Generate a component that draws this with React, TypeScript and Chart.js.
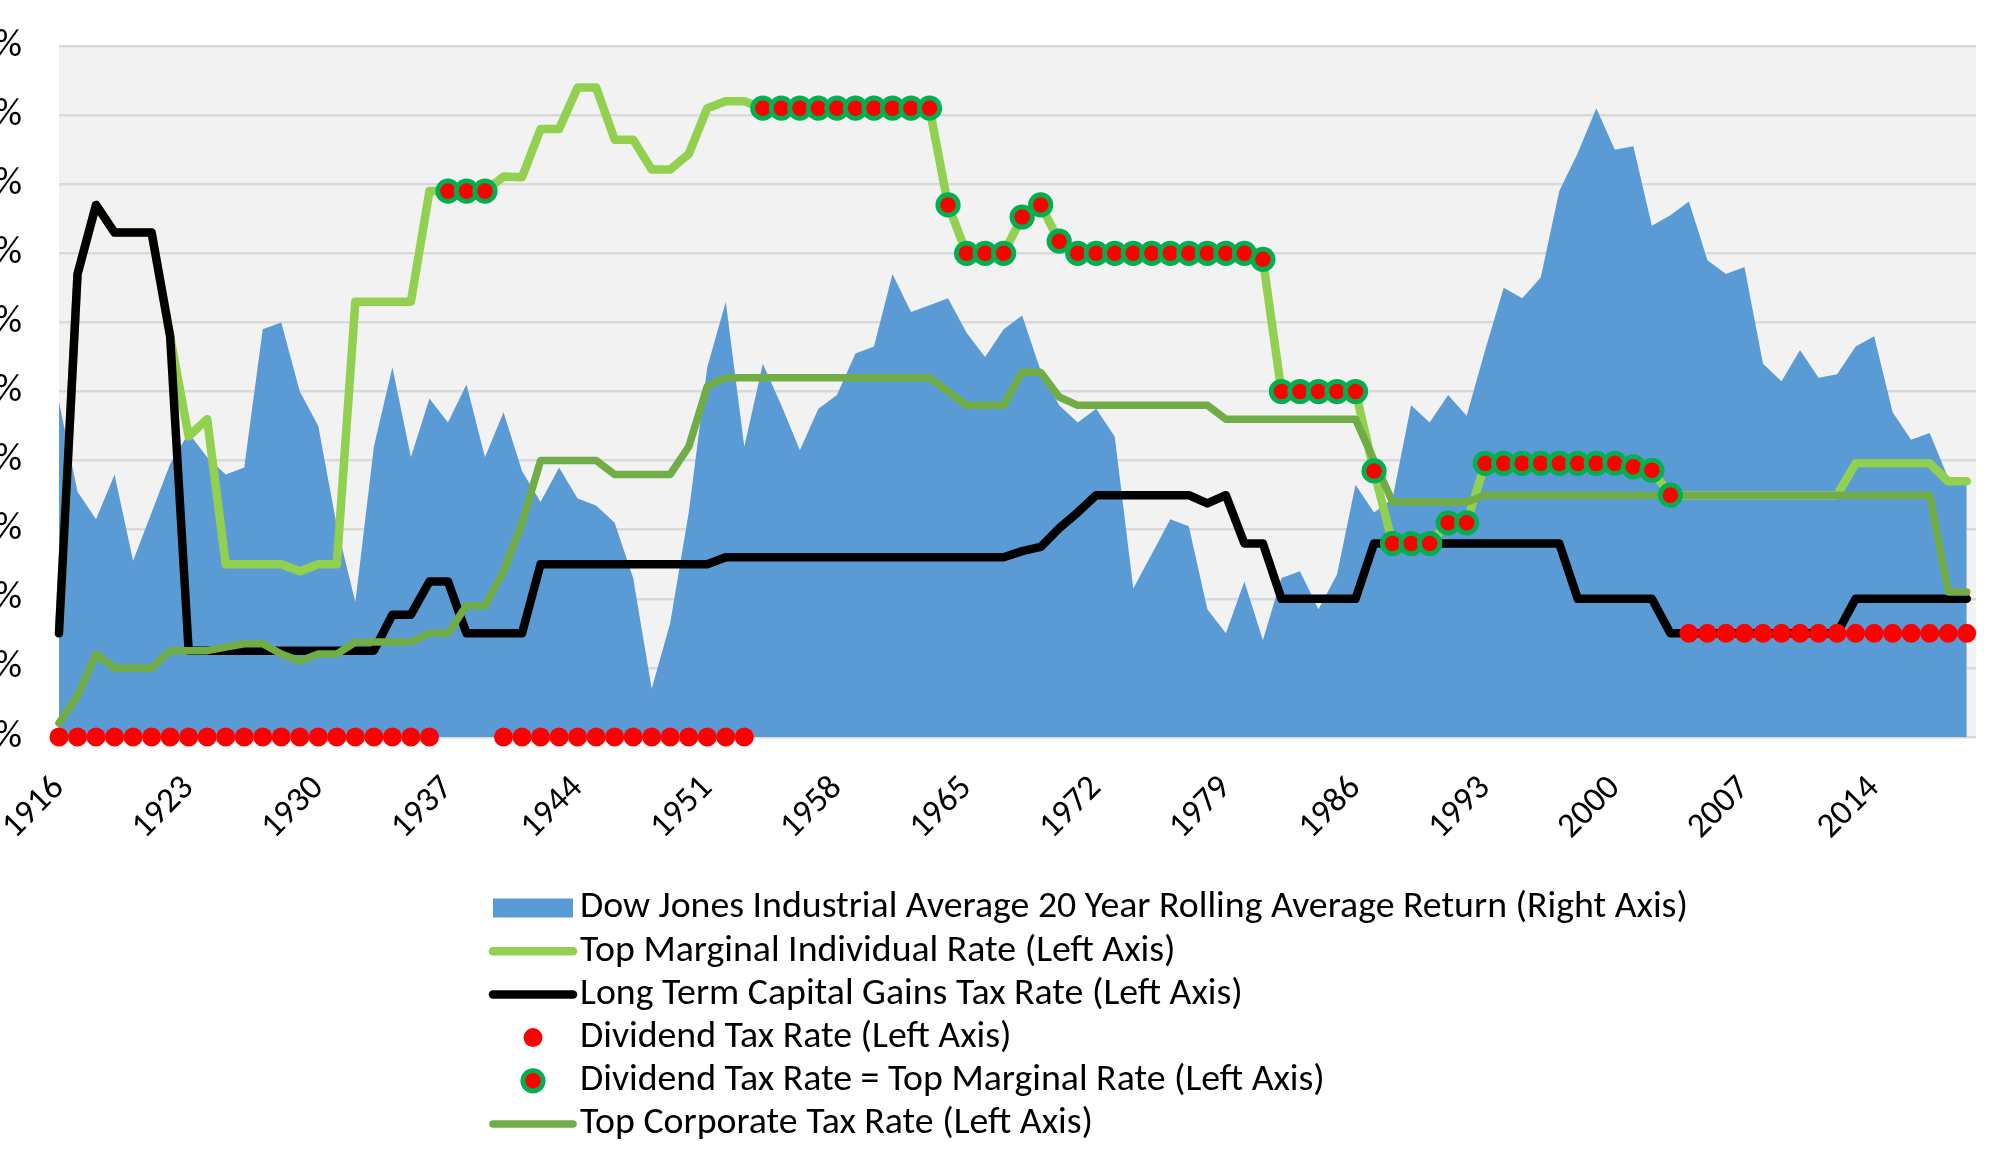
import { useEffect, useRef } from "react";
import { Chart, registerables, type Plugin } from "chart.js";

Chart.register(...registerables);

// one entry per year, 1916 .. 2019
const years = [
  1916, 1917, 1918, 1919, 1920, 1921, 1922, 1923, 1924, 1925,
  1926, 1927, 1928, 1929, 1930, 1931, 1932, 1933, 1934, 1935,
  1936, 1937, 1938, 1939, 1940, 1941, 1942, 1943, 1944, 1945,
  1946, 1947, 1948, 1949, 1950, 1951, 1952, 1953, 1954, 1955,
  1956, 1957, 1958, 1959, 1960, 1961, 1962, 1963, 1964, 1965,
  1966, 1967, 1968, 1969, 1970, 1971, 1972, 1973, 1974, 1975,
  1976, 1977, 1978, 1979, 1980, 1981, 1982, 1983, 1984, 1985,
  1986, 1987, 1988, 1989, 1990, 1991, 1992, 1993, 1994, 1995,
  1996, 1997, 1998, 1999, 2000, 2001, 2002, 2003, 2004, 2005,
  2006, 2007, 2008, 2009, 2010, 2011, 2012, 2013, 2014, 2015,
  2016, 2017, 2018, 2019,
];

const tickYears = [1916, 1923, 1930, 1937, 1944, 1951, 1958, 1965, 1972, 1979, 1986, 1993, 2000, 2007, 2014];

// right axis, % per year
const djiaReturn = [
  5.7, 3.1, 2.3, 3.6, 1.1, 2.5, 3.9, 4.8, 4.1, 3.6,
  3.8, 7.8, 8.0, 6.0, 5.0, 2.1, -0.1, 4.4, 6.7, 4.1,
  5.8, 5.1, 6.2, 4.1, 5.4, 3.7, 2.8, 3.8, 2.9, 2.7,
  2.2, 0.6, -2.6, -0.7, 2.5, 6.7, 8.6, 4.4, 6.8, 5.6,
  4.3, 5.5, 5.9, 7.1, 7.3, 9.4, 8.3, 8.5, 8.7, 7.7,
  7.0, 7.8, 8.2, 6.6, 5.6, 5.1, 5.5, 4.7, 0.3, 1.3,
  2.3, 2.1, -0.3, -1.0, 0.5, -1.2, 0.6, 0.8, -0.3, 0.7,
  3.3, 2.5, 2.9, 5.6, 5.1, 5.9, 5.3, 7.2, 9.0, 8.7,
  9.3, 11.8, 12.9, 14.2, 13.0, 13.1, 10.8, 11.1, 11.5, 9.8,
  9.4, 9.6, 6.8, 6.3, 7.2, 6.4, 6.5, 7.3, 7.6, 5.4,
  4.6, 4.8, 3.5, 3.3,
];

const topMarginal = [
  15, 67, 77, 73, 73, 73, 58, 43.5, 46, 25,
  25, 25, 25, 24, 25, 25, 63, 63, 63, 63,
  79, 79, 79, 79, 81.1, 81, 88, 88, 94, 94,
  86.45, 86.45, 82.13, 82.13, 84.36, 91, 92, 92, 91, 91,
  91, 91, 91, 91, 91, 91, 91, 91, 77, 70,
  70, 70, 75.25, 77, 71.75, 70, 70, 70, 70, 70,
  70, 70, 70, 70, 70, 69.13, 50, 50, 50, 50,
  50, 38.5, 28, 28, 28, 31, 31, 39.6, 39.6, 39.6,
  39.6, 39.6, 39.6, 39.6, 39.6, 39.1, 38.6, 35, 35, 35,
  35, 35, 35, 35, 35, 35, 35, 39.6, 39.6, 39.6,
  39.6, 39.6, 37, 37,
];

const capitalGains = [
  15, 67, 77, 73, 73, 73, 58, 12.5, 12.5, 12.5,
  12.5, 12.5, 12.5, 12.5, 12.5, 12.5, 12.5, 12.5, 17.7, 17.7,
  22.5, 22.5, 15, 15, 15, 15, 25, 25, 25, 25,
  25, 25, 25, 25, 25, 25, 26, 26, 26, 26,
  26, 26, 26, 26, 26, 26, 26, 26, 26, 26,
  26, 26, 26.9, 27.5, 30.2, 32.5, 35, 35, 35, 35,
  35, 35, 33.8, 35, 28, 28, 20, 20, 20, 20,
  20, 28, 28, 28, 28, 28, 28, 28, 28, 28,
  28, 28, 20, 20, 20, 20, 20, 15, 15, 15,
  15, 15, 15, 15, 15, 15, 15, 20, 20, 20,
  20, 20, 20, 20,
];

const dividendRate = [
  0, 0, 0, 0, 0, 0, 0, 0, 0, 0,
  0, 0, 0, 0, 0, 0, 0, 0, 0, 0,
  0, 79, 79, 79, 0, 0, 0, 0, 0, 0,
  0, 0, 0, 0, 0, 0, 0, 0, 91, 91,
  91, 91, 91, 91, 91, 91, 91, 91, 77, 70,
  70, 70, 75.25, 77, 71.75, 70, 70, 70, 70, 70,
  70, 70, 70, 70, 70, 69.13, 50, 50, 50, 50,
  50, 38.5, 28, 28, 28, 31, 31, 39.6, 39.6, 39.6,
  39.6, 39.6, 39.6, 39.6, 39.6, 39.1, 38.6, 35, 15, 15,
  15, 15, 15, 15, 15, 15, 15, 15, 15, 15,
  15, 15, 15, 15,
];

const corporateRate = [
  2, 6, 12, 10, 10, 10, 12.5, 12.5, 12.5, 13,
  13.5, 13.5, 12, 11, 12, 12, 13.75, 13.75, 13.75, 13.75,
  15, 15, 19, 19, 24, 31, 40, 40, 40, 40,
  38, 38, 38, 38, 42, 50.75, 52, 52, 52, 52,
  52, 52, 52, 52, 52, 52, 52, 52, 50, 48,
  48, 48, 52.8, 52.8, 49.2, 48, 48, 48, 48, 48,
  48, 48, 48, 46, 46, 46, 46, 46, 46, 46,
  46, 40, 34, 34, 34, 34, 34, 35, 35, 35,
  35, 35, 35, 35, 35, 35, 35, 35, 35, 35,
  35, 35, 35, 35, 35, 35, 35, 35, 35, 35,
  35, 35, 21, 21,
];

const FONT = "Carlito, Calibri, Lato, sans-serif";
const CLIP = 91; // canvas px hidden off the left edge (cut-off axis labels)

const pts = (vals: (number | null)[]) => years.map((x, i) => ({ x, y: vals[i] }));

const plotBackground: Plugin = {
  id: "plotBackground",
  beforeDraw(chart) {
    const { ctx, chartArea: a } = chart;
    ctx.save();
    ctx.fillStyle = "#F2F2F2";
    ctx.fillRect(a.left, a.top, a.right - a.left, a.bottom - a.top);
    ctx.restore();
  },
};

// one legend entry per row, like the Excel legend
const stackedLegend: Plugin = {
  id: "stackedLegend",
  afterDraw(chart) {
    const { ctx } = chart;
    const sx = 533 + CLIP;
    const tx = 580 + CLIP;
    ctx.save();
    chart.data.datasets.forEach((ds: any, i) => {
      const y = 908 + i * 43.2;
      if (ds.fill) {
        ctx.fillStyle = ds.backgroundColor;
        ctx.fillRect(sx - 40, y - 9.5, 80, 19);
      } else if (ds.showLine === false) {
        ctx.beginPath();
        ctx.arc(sx, y, ds.pointRadius, 0, Math.PI * 2);
        ctx.fillStyle = ds.pointBackgroundColor;
        ctx.fill();
        if (ds.pointBorderWidth) {
          ctx.lineWidth = ds.pointBorderWidth;
          ctx.strokeStyle = ds.pointBorderColor;
          ctx.stroke();
        }
      } else {
        ctx.beginPath();
        ctx.moveTo(sx - 40, y);
        ctx.lineTo(sx + 40, y);
        ctx.lineWidth = ds.borderWidth;
        ctx.strokeStyle = ds.borderColor;
        ctx.lineCap = "round";
        ctx.stroke();
      }
      ctx.fillStyle = "#000";
      ctx.font = `37.8px ${FONT}`;
      ctx.textBaseline = "middle";
      ctx.textAlign = "left";
      ctx.fillText(ds.label, tx, y);
    });
    ctx.restore();
  },
};

export default function App() {
  const ref = useRef<HTMLCanvasElement>(null);

  useEffect(() => {
    if (!ref.current) return;
    const sameAsTop = dividendRate.map((d, i) => (d === topMarginal[i] ? d : null));
    const otherDividend = dividendRate.map((d, i) => (d === topMarginal[i] ? null : d));

    const chart = new Chart(ref.current, {
      type: "line",
      data: {
        datasets: [
          {
            label: "Dow Jones Industrial Average 20 Year Rolling Average Return (Right Axis)",
            data: pts(djiaReturn),
            yAxisID: "y2",
            fill: "start",
            backgroundColor: "#5B9BD5",
            borderWidth: 0,
            pointRadius: 0,
            order: 6,
          },
          {
            label: "Top Marginal Individual Rate (Left Axis)",
            data: pts(topMarginal),
            borderColor: "#92D050",
            borderWidth: 8.5,
            borderJoinStyle: "round",
            borderCapStyle: "round",
            pointRadius: 0,
            clip: false,
            order: 5,
          },
          {
            label: "Long Term Capital Gains Tax Rate (Left Axis)",
            data: pts(capitalGains),
            borderColor: "#000000",
            borderWidth: 8.5,
            borderJoinStyle: "round",
            borderCapStyle: "round",
            pointRadius: 0,
            clip: false,
            order: 4,
          },
          {
            label: "Dividend Tax Rate (Left Axis)",
            data: pts(otherDividend),
            showLine: false,
            pointRadius: 9.5,
            pointBackgroundColor: "#FF0000",
            pointBorderWidth: 0,
            pointBorderColor: "#FF0000",
            clip: false,
            order: 2,
          },
          {
            label: "Dividend Tax Rate = Top Marginal Rate (Left Axis)",
            data: pts(sameAsTop),
            showLine: false,
            pointRadius: 10.2,
            pointBackgroundColor: "#FF0000",
            pointBorderWidth: 4.8,
            pointBorderColor: "#00B050",
            clip: false,
            order: 1,
          },
          {
            label: "Top Corporate Tax Rate (Left Axis)",
            data: pts(corporateRate),
            borderColor: "#70AD47",
            borderWidth: 7.5,
            borderJoinStyle: "round",
            borderCapStyle: "round",
            pointRadius: 0,
            clip: false,
            order: 3,
          },
        ],
      },
      options: {
        responsive: true,
        maintainAspectRatio: false,
        animation: false,
        layout: { padding: { top: 46, right: 24, bottom: 300, left: 0 } },
        plugins: {
          legend: { display: false },
          tooltip: { enabled: false },
        },
        scales: {
          x: {
            type: "linear",
            min: 1916,
            max: 2019.5,
            grid: { display: false, drawTicks: false },
            border: { display: false },
            afterBuildTicks: (s) => {
              s.ticks = tickYears.map((value) => ({ value }));
            },
            afterFit: (s) => {
              s.height = 130;
            },
            ticks: {
              autoSkip: false,
              minRotation: 45,
              maxRotation: 45,
              padding: 31,
              color: "#000",
              font: { family: FONT, size: 35 },
              callback: (v) => String(v),
            },
          },
          y: {
            min: 0,
            max: 100,
            grid: { color: "#D9D9D9", lineWidth: 2.5, drawTicks: false },
            border: { display: false },
            afterFit: (s) => {
              s.width = 150;
              s.paddingTop = 0;
              s.paddingBottom = 0;
            },
            ticks: {
              stepSize: 10,
              padding: 37,
              color: "#000",
              font: { family: FONT, size: 38 },
              callback: (v) => v + "%",
            },
          },
          y2: {
            position: "right",
            min: -4,
            max: 16,
            display: false,
          },
        },
      },
      plugins: [plotBackground, stackedLegend],
    });
    return () => chart.destroy();
  }, []);

  return (
    <div style={{ position: "fixed", left: 0, top: 0, width: 2000, height: 1167, overflow: "hidden", background: "#fff" }}>
      <div style={{ position: "absolute", left: -CLIP, top: 0, width: 2000 + CLIP, height: 1167 }}>
        <canvas ref={ref} />
      </div>
    </div>
  );
}
